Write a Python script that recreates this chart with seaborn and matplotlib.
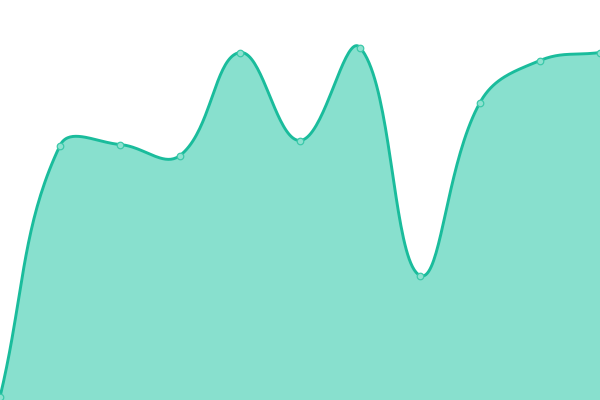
import numpy as np
import pandas as pd
import matplotlib
matplotlib.use("Agg")
import matplotlib.pyplot as plt
import seaborn as sns

# 数据
points = list(range(11))
values = [3, 254.5, 255.5, 244.5, 347.5, 259.5, 352.5, 124.5, 297.5, 339.5, 347.5]

line_color = "#1abc9c"
fill_color = "#88e0ce"
x_step = 60  # 每个点的像素间距，用于平滑曲线的距离权重

sns.set_style("white")


def smooth_curve(xs, ys, tension=0.4, n=40):
    # 与 Chart.js 类似的贝塞尔平滑（按点间距离加权）
    px = np.array(xs, dtype=float) * x_step
    py = np.array(ys, dtype=float)
    k = len(px)
    cp_prev = np.zeros((k, 2))
    cp_next = np.zeros((k, 2))
    for i in range(k):
        p0 = np.array([px[max(i - 1, 0)], py[max(i - 1, 0)]])
        p1 = np.array([px[i], py[i]])
        p2 = np.array([px[min(i + 1, k - 1)], py[min(i + 1, k - 1)]])
        d01 = np.hypot(*(p1 - p0))
        d12 = np.hypot(*(p2 - p1))
        s = d01 + d12 if d01 + d12 > 0 else 1
        fa = tension * d01 / s
        fb = tension * d12 / s
        cp_prev[i] = p1 - fa * (p2 - p0)
        cp_next[i] = p1 + fb * (p2 - p0)
    t = np.linspace(0, 1, n)[:, None]
    segs = []
    for i in range(k - 1):
        a = np.array([px[i], py[i]])
        b = cp_next[i]
        c = cp_prev[i + 1]
        d = np.array([px[i + 1], py[i + 1]])
        seg = (1 - t) ** 3 * a + 3 * (1 - t) ** 2 * t * b + 3 * (1 - t) * t ** 2 * c + t ** 3 * d
        segs.append(seg if i == 0 else seg[1:])
    out = np.vstack(segs)
    return out[:, 0] / x_step, out[:, 1]


sx, sy = smooth_curve(points, values)
curve = pd.DataFrame({"x": sx, "y": sy})
df = pd.DataFrame({"x": points, "y": values})

fig = plt.figure(figsize=(6, 4), dpi=100)
ax = fig.add_axes([0, 0, 1, 1])

ax.fill_between(curve["x"], curve["y"], 0, color=fill_color, linewidth=0)
sns.lineplot(data=curve, x="x", y="y", ax=ax, color=line_color, linewidth=2.1, sort=False)
sns.scatterplot(data=df, x="x", y="y", ax=ax, s=22, color="#8ee2d0",
                edgecolor="#3cc9aa", linewidth=0.9, zorder=5)

ax.set_xlim(0, 10)
ax.set_ylim(0, 400)
ax.axis("off")

plt.savefig("out.png", dpi=100)
